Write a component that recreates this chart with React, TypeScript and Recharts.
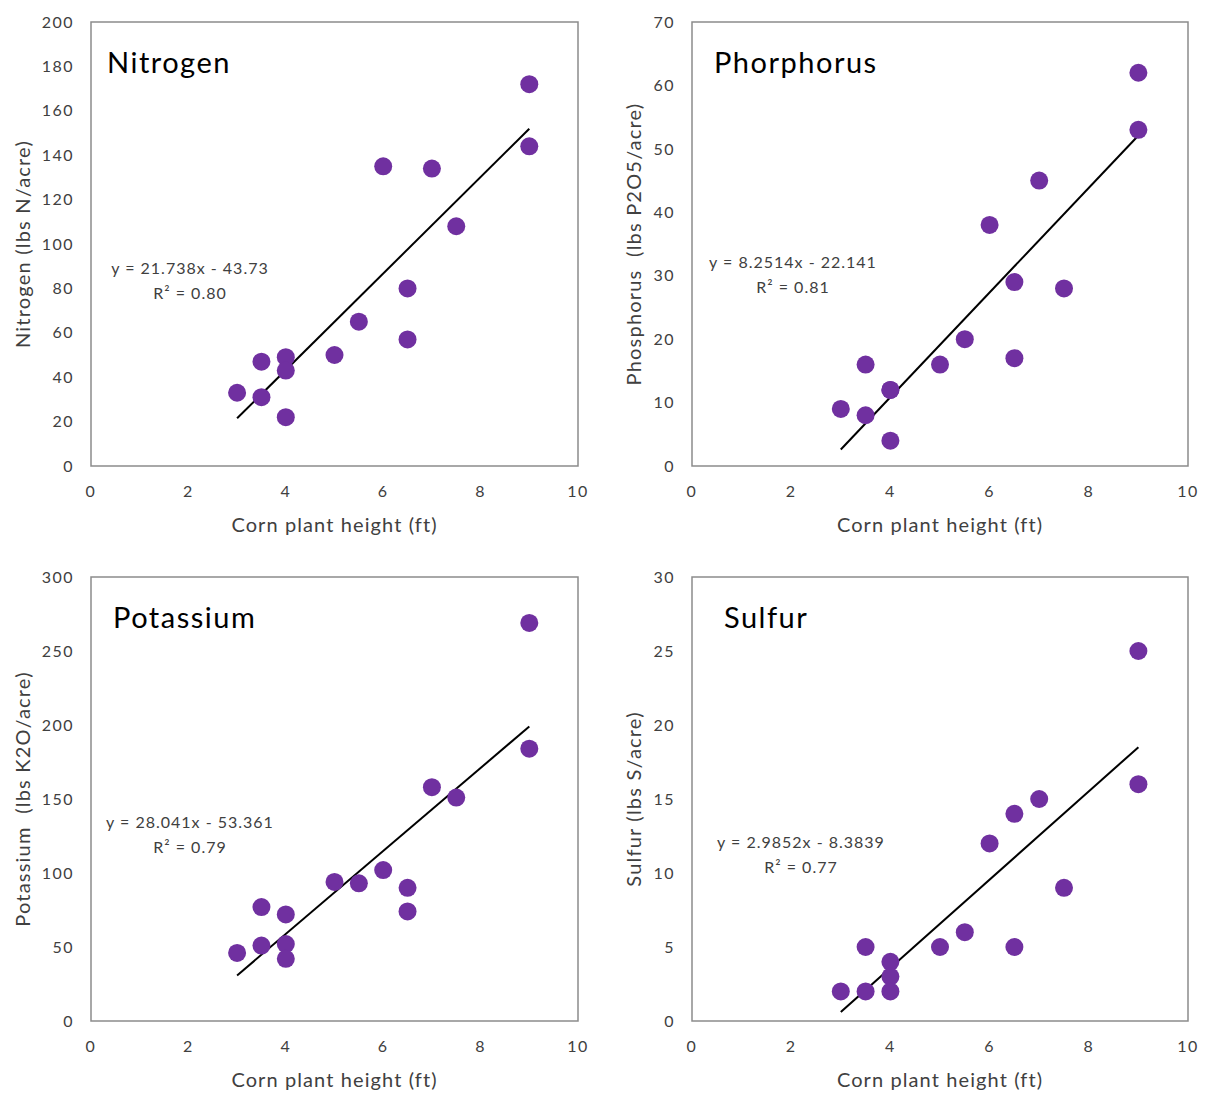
import React from "react";
import {
  ScatterChart,
  Scatter,
  XAxis,
  YAxis,
  ReferenceArea,
  ReferenceLine,
} from "recharts";

// plant heights shared by all four panels (ft)
const heights = [3, 3.5, 3.5, 4, 4, 4, 5, 5.5, 6, 6.5, 6.5, 7, 7.5, 9, 9];

const nitrogen = [33, 47, 31, 49, 43, 22, 50, 65, 135, 80, 57, 134, 108, 172, 144];
const phosphorus = [9, 16, 8, 12, 4, 12, 16, 20, 38, 29, 17, 45, 28, 62, 53];
const potassium = [46, 77, 51, 72, 52, 42, 94, 93, 102, 90, 74, 158, 151, 269, 184];
const sulfur = [2, 5, 2, 4, 3, 2, 5, 6, 12, 14, 5, 15, 9, 25, 16];

// trendline end points (x = 3 and x = 9)
const nitrogenTrend = [21.5, 151.9];
const phosphorusTrend = [2.6, 52.1];
const potassiumTrend = [30.8, 199.0];
const sulfurTrend = [0.6, 18.5];

const xTicks = [0, 2, 4, 6, 8, 10];
const nitrogenTicks = [0, 20, 40, 60, 80, 100, 120, 140, 160, 180, 200];
const phosphorusTicks = [0, 10, 20, 30, 40, 50, 60, 70];
const potassiumTicks = [0, 50, 100, 150, 200, 250, 300];
const sulfurTicks = [0, 5, 10, 15, 20, 25, 30];

const FONT = "Lato, 'Open Sans', sans-serif";
const PURPLE = "#7030A0";
const TEXT = "#404040";

interface PanelProps {
  left: number;
  top: number;
  width: number;
  padLeft: number;
  padRight: number;
  title: string;
  titleX: number;
  yLabel: string;
  yLabelX: number;
  values: number[];
  yTicks: number[];
  trend: number[];
  equation: string;
  r2: string;
  eqX: number;
  eqY: number;
}

const Dot = (props: any) => (
  <circle cx={props.cx} cy={props.cy} r={9} fill={PURPLE} />
);

const tickStyle = {
  fill: TEXT,
  fontSize: 16,
  fontFamily: FONT,
  letterSpacing: 1.5,
};

const Panel = (p: PanelProps) => {
  const data = heights.map((h, i) => ({ x: h, y: p.values[i] }));
  const yMax = p.yTicks[p.yTicks.length - 1];
  const plotLeft = p.padLeft + 60;
  const plotRight = p.width - p.padRight;
  return (
    <div
      style={{
        position: "absolute",
        left: p.left,
        top: p.top,
        width: p.width,
        height: 545,
        fontFamily: FONT,
        color: TEXT,
      }}
    >
      <ScatterChart
        width={p.width}
        height={545}
        margin={{ top: 22, right: p.padRight, left: p.padLeft, bottom: 19 }}
      >
        <XAxis
          type="number"
          dataKey="x"
          domain={[0, 10]}
          ticks={xTicks}
          axisLine={false}
          tickLine={false}
          tickSize={0}
          tickMargin={20}
          height={60}
          tick={tickStyle}
        />
        <YAxis
          type="number"
          dataKey="y"
          domain={[0, yMax]}
          ticks={p.yTicks}
          axisLine={false}
          tickLine={false}
          tickSize={0}
          tickMargin={17}
          width={60}
          tick={tickStyle}
        />
        <ReferenceArea
          x1={0}
          x2={10}
          y1={0}
          y2={yMax}
          fill="none"
          stroke="#8c8c8c"
          strokeWidth={1.5}
          fillOpacity={0}
        />
        <ReferenceLine
          segment={[
            { x: 3, y: p.trend[0] },
            { x: 9, y: p.trend[1] },
          ]}
          stroke="#000"
          strokeWidth={2}
        />
        <Scatter data={data} shape={Dot} isAnimationActive={false} />
      </ScatterChart>
      <div
        style={{
          position: "absolute",
          left: p.titleX,
          top: 44,
          fontSize: 29,
          letterSpacing: 1.5,
          color: "#000",
        }}
      >
        {p.title}
      </div>
      <div
        style={{
          position: "absolute",
          left: p.eqX - 110,
          width: 220,
          top: p.eqY,
          textAlign: "center",
          fontSize: 16,
          letterSpacing: 1,
          lineHeight: "25px",
        }}
      >
        <div>{p.equation}</div>
        <div>{p.r2}</div>
      </div>
      <div
        style={{
          position: "absolute",
          left: (plotLeft + plotRight) / 2 - 150,
          width: 300,
          top: 512,
          textAlign: "center",
          fontSize: 20,
          letterSpacing: 1.1,
        }}
      >
        Corn plant height (ft)
      </div>
      <div
        style={{
          position: "absolute",
          left: p.yLabelX - 160,
          top: 244 - 14,
          width: 320,
          height: 28,
          lineHeight: "28px",
          textAlign: "center",
          fontSize: 20,
          letterSpacing: 1.2,
          transform: "rotate(-90deg)",
          whiteSpace: "pre",
        }}
      >
        {p.yLabel}
      </div>
    </div>
  );
};

export default function App() {
  return (
    <div
      style={{
        position: "absolute",
        left: 0,
        top: 0,
        width: 1206,
        height: 1093,
        background: "#fff",
      }}
    >
      <Panel
        left={0}
        top={0}
        width={600}
        padLeft={31}
        padRight={22}
        title="Nitrogen"
        titleX={107}
        yLabel="Nitrogen (lbs N/acre)"
        yLabelX={22}
        values={nitrogen}
        yTicks={nitrogenTicks}
        trend={nitrogenTrend}
        equation="y = 21.738x - 43.73"
        r2="R² = 0.80"
        eqX={190}
        eqY={255}
      />
      <Panel
        left={600}
        top={0}
        width={606}
        padLeft={32}
        padRight={18}
        title="Phorphorus"
        titleX={114}
        yLabel="Phosphorus  (lbs P2O5/acre)"
        yLabelX={33}
        values={phosphorus}
        yTicks={phosphorusTicks}
        trend={phosphorusTrend}
        equation="y = 8.2514x - 22.141"
        r2="R² = 0.81"
        eqX={193}
        eqY={249}
      />
      <Panel
        left={0}
        top={555}
        width={600}
        padLeft={31}
        padRight={22}
        title="Potassium"
        titleX={113}
        yLabel="Potassium  (lbs K2O/acre)"
        yLabelX={22}
        values={potassium}
        yTicks={potassiumTicks}
        trend={potassiumTrend}
        equation="y = 28.041x - 53.361"
        r2="R² = 0.79"
        eqX={190}
        eqY={254}
      />
      <Panel
        left={600}
        top={555}
        width={606}
        padLeft={32}
        padRight={18}
        title="Sulfur"
        titleX={124}
        yLabel="Sulfur (lbs S/acre)"
        yLabelX={33}
        values={sulfur}
        yTicks={sulfurTicks}
        trend={sulfurTrend}
        equation="y = 2.9852x - 8.3839"
        r2="R² = 0.77"
        eqX={201}
        eqY={274}
      />
    </div>
  );
}
